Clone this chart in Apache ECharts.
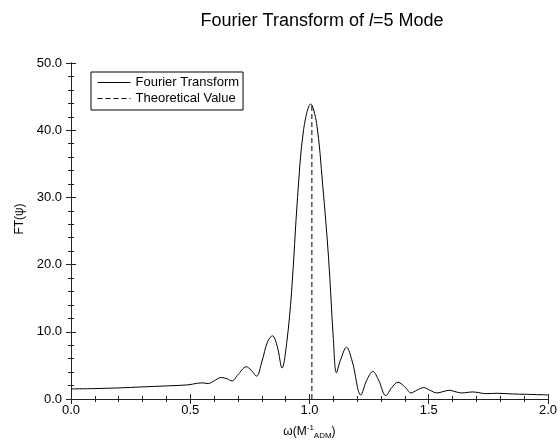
<!DOCTYPE html>
<html>
<head>
<meta charset="utf-8">
<script src="https://cdn.jsdelivr.net/npm/echarts@6/dist/echarts.min.js"></script>
<style>html,body{margin:0;padding:0;background:#fff}#c{width:560px;height:445px}</style>
</head>
<body>
<div id="c"></div>
<script>
// omega (1/M_ADM) and FT(psi) values
const omega = [0.00,0.10,0.20,0.30,0.40,0.49,0.53,0.55,0.575,0.60,0.63,0.655,0.675,0.70,0.735,0.755,0.778,0.80,0.825,0.845,0.865,0.885,0.905,0.925,0.95,0.975,1.005,1.03,1.055,1.08,1.10,1.113,1.13,1.155,1.18,1.215,1.24,1.266,1.29,1.32,1.345,1.371,1.40,1.426,1.45,1.479,1.505,1.534,1.56,1.587,1.61,1.638,1.66,1.683,1.71,1.735,1.79,1.85,1.91,2.00];
const ftValues = [1.5,1.55,1.65,1.8,1.95,2.1,2.35,2.4,2.3,2.7,3.2,3.0,2.7,3.6,4.8,4.3,3.4,5.5,8.6,9.4,7.8,4.6,8.5,16.0,30.0,40.0,43.9,41.0,32.0,21.0,9.0,3.9,5.8,7.7,5.5,0.6,2.8,4.1,2.8,0.5,1.7,2.5,1.8,0.9,1.3,1.7,1.3,0.9,1.1,1.3,1.1,0.9,0.97,1.05,0.95,0.8,0.85,0.75,0.7,0.6];
const theoryOmega = [1.01, 1.01];
const theoryValues = [0, 43.9];
const seriesNames = ['Fourier Transform', 'Theoretical Value'];

const ft = omega.map((w, i) => [w, ftValues[i]]);
const th = theoryOmega.map((w, i) => [w, theoryValues[i]]);

const font = 'Liberation Sans, Arial, Helvetica, sans-serif';
const chart = echarts.init(document.getElementById('c'), null, {renderer: 'canvas'});

const baseX = {
  type: 'value', min: 0, max: 2, interval: 0.5,
  axisLine: {show: true, lineStyle: {color: '#222', width: 1}},
  axisTick: {show: true, inside: true, length: 5, lineStyle: {color: '#222'}},
  minorTick: {show: true, splitNumber: 5, length: 3, lineStyle: {color: '#222'}},
  splitLine: {show: false}, minorSplitLine: {show: false}
};
const baseY = {
  type: 'value', min: 0, max: 50, interval: 10,
  axisLine: {show: true, lineStyle: {color: '#222', width: 1}},
  axisTick: {show: true, inside: true, length: 5, lineStyle: {color: '#222'}},
  minorTick: {show: true, splitNumber: 5, length: 3, lineStyle: {color: '#222'}},
  splitLine: {show: false}, minorSplitLine: {show: false}
};

chart.setOption({
  animation: false,
  backgroundColor: '#fff',
  title: {
    text: '{n|Fourier Transform of }{i|l}{n|=5 Mode}',
    left: 317, top: 7, textAlign: 'center',
    textStyle: {
      fontWeight: 'normal',
      rich: {
        n: {fontFamily: font, fontSize: 18, fontWeight: 'normal', color: '#000'},
        i: {fontFamily: font, fontSize: 18, fontWeight: 'normal', fontStyle: 'italic', color: '#000'}
      }
    }
  },
  grid: {left: 71, right: 8, top: 63, bottom: 35},
  legend: {
    orient: 'vertical', left: 91, top: 72,
    data: seriesNames,
    itemWidth: 33, itemHeight: 14, itemGap: 3,
    itemStyle: {opacity: 0},
    lineStyle: {width: 1},
    borderColor: '#000', borderWidth: 1, borderRadius: 0,
    padding: [4, 4, 5, 6],
    textStyle: {fontFamily: font, fontSize: 13, color: '#000'}
  },
  xAxis: [
    Object.assign({}, baseX, {
      position: 'bottom',
      name: '{n|ω(M}{sup|-1}{sub|ADM}{n|)}',
      nameLocation: 'middle', nameGap: 25,
      nameTextStyle: {
        rich: {
          n: {fontFamily: font, fontSize: 12, color: '#000'},
          sup: {fontFamily: font, fontSize: 8, color: '#000', padding: [0, 0, 8, 0]},
          sub: {fontFamily: font, fontSize: 8, color: '#000', padding: [8, 0, 0, 0]}
        }
      },
      axisLabel: {margin: 5, fontFamily: font, fontSize: 13, color: '#000', formatter: v => v.toFixed(1)}
    }),
    Object.assign({}, baseX, {position: 'top', axisLabel: {show: false}})
  ],
  yAxis: [
    Object.assign({}, baseY, {
      position: 'left',
      name: 'FT(ψ)', nameLocation: 'middle', nameGap: 41,
      nameTextStyle: {fontFamily: font, fontSize: 12, color: '#000', padding: [0, 0, 0, 24]},
      axisLabel: {margin: 9, fontFamily: font, fontSize: 13, color: '#000', formatter: v => v.toFixed(1)}
    }),
    Object.assign({}, baseY, {position: 'right', axisLabel: {show: false}})
  ],
  series: [
    {
      name: seriesNames[0], type: 'line', data: ft, xAxisIndex: 0, yAxisIndex: 0,
      symbol: 'none', smooth: 0.35,
      lineStyle: {color: '#000', width: 1}, itemStyle: {color: '#000'}
    },
    {
      name: seriesNames[1], type: 'line', data: th, xAxisIndex: 0, yAxisIndex: 0,
      symbol: 'none',
      lineStyle: {color: '#000', width: 1, type: [5, 3]}, itemStyle: {color: '#000'}
    }
  ]
});
</script>
</body>
</html>
